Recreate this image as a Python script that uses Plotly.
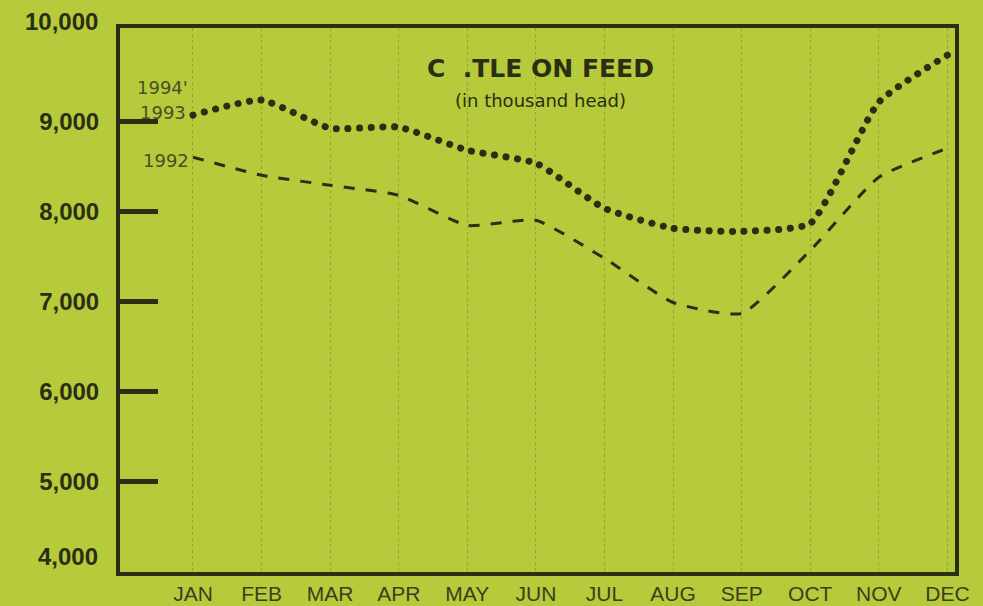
import plotly.graph_objects as go

months = ["JAN", "FEB", "MAR", "APR", "MAY", "JUN", "JUL", "AUG", "SEP", "OCT", "NOV", "DEC"]
y1993 = [9067, 9233, 8922, 8933, 8678, 8533, 8033, 7811, 7778, 7867, 9211, 9733]
y1992 = [8600, 8400, 8289, 8178, 7844, 7900, 7478, 6989, 6867, 7567, 8378, 8700]
ytick_vals = [5000, 6000, 7000, 8000, 9000]
ytick_text = ["5,000", "6,000", "7,000", "8,000", "9,000"]
yend_text = ["10,000", "4,000"]

bg = "#b6ca3c"
ink = "#2a2e12"
tickfont = dict(size=24, color=ink, family="Liberation Sans, Arial, sans-serif", weight="bold")

fig = go.Figure()
fig.add_trace(go.Scatter(x=months, y=y1992, mode="lines", name="1992",
                         line=dict(color=ink, width=3, dash="11px,11px", shape="spline", smoothing=0.5),
                         showlegend=False, hoverinfo="skip"))
fig.add_trace(go.Scatter(x=months, y=y1993, mode="lines", name="1993",
                         line=dict(color=ink, width=7, dash="0.1px,11.5px", shape="spline", smoothing=0.5),
                         showlegend=False, hoverinfo="skip"))

fig.update_layout(
    width=983, height=606,
    margin=dict(l=120, r=28, t=28, b=34, autoexpand=False),
    paper_bgcolor=bg, plot_bgcolor=bg,
    font=dict(family="Liberation Sans, Arial, sans-serif", color=ink),
)
fig.update_xaxes(
    type="category", range=[-1.064, 11.11], automargin=False,
    showline=True, mirror=True, linecolor=ink, linewidth=4,
    showgrid=True, gridcolor="rgba(60,70,20,0.28)", gridwidth=1, griddash="dot",
    ticks="", tickfont=dict(size=21, color="#3a3f1c"),
    zeroline=False,
)
fig.update_yaxes(
    range=[4000, 10033], tickvals=ytick_vals, ticktext=ytick_text, automargin=False,
    showline=True, mirror=True, linecolor=ink, linewidth=4,
    showgrid=False, zeroline=False,
    ticks="inside", ticklen=38, tickwidth=5, tickcolor=ink,
    tickfont=tickfont,
    ticklabelstandoff=12,
)

# end labels of the value axis (printed slightly off their border lines)
fig.add_annotation(text=yend_text[0], xref="paper", yref="paper", x=-0.0235, y=1.012,
                   xanchor="right", yanchor="middle", showarrow=False, font=tickfont)
fig.add_annotation(text=yend_text[1], xref="paper", yref="paper", x=-0.0235, y=0.028,
                   xanchor="right", yanchor="middle", showarrow=False, font=tickfont)

fig.add_annotation(text="C  .TLE ON FEED", xref="paper", yref="paper", x=0.504, y=0.925,
                   showarrow=False, font=dict(size=25, color=ink, family="DejaVu Sans, sans-serif", weight="bold"),
                   xanchor="center", yanchor="middle")
fig.add_annotation(text="(in thousand head)", xref="paper", yref="paper", x=0.504, y=0.866,
                   showarrow=False, font=dict(size=18, color=ink, family="DejaVu Sans, sans-serif"),
                   xanchor="center", yanchor="middle")

for txt, xv, yv in [("1994'", -0.45, 9370), ("1993", -0.44, 9100), ("1992", -0.40, 8560)]:
    fig.add_annotation(text=txt, x=xv, y=yv, xref="x", yref="y", showarrow=False,
                       xanchor="center", yanchor="middle",
                       font=dict(size=18, color="#4a4f26", family="DejaVu Sans, sans-serif"))

post = """
document.body.style.margin='0';
document.querySelectorAll('.scatterlayer .trace').forEach(function(t, i){
  t.querySelectorAll('path.js-line').forEach(function(p){
    p.style.strokeLinecap = (i === 1) ? 'round' : 'butt';
  });
});
"""
fig.write_html("out.html", post_script=post, config={"displayModeBar": False})
